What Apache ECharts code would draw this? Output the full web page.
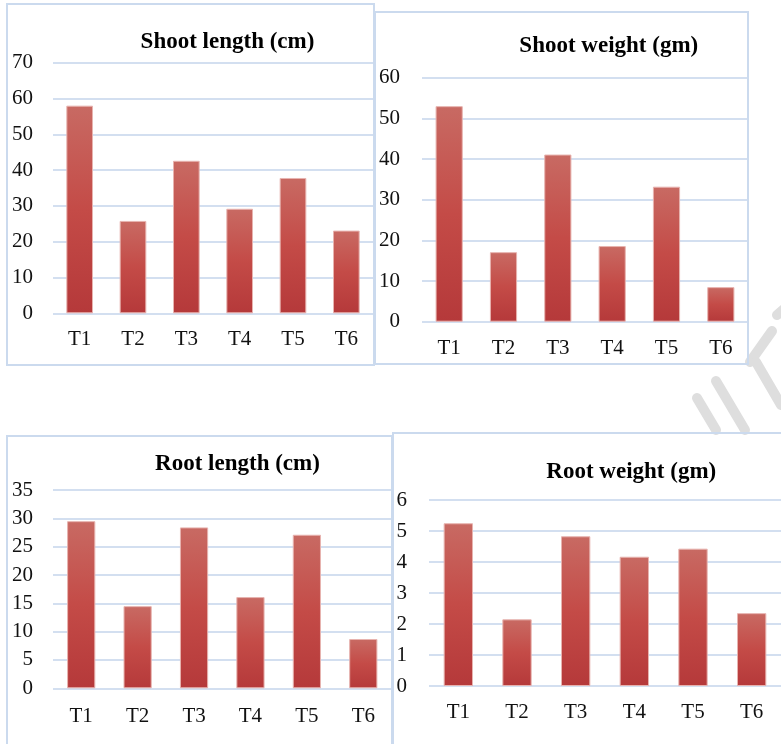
<!DOCTYPE html>
<html>
<head>
<meta charset="utf-8">
<script src="https://cdn.jsdelivr.net/npm/echarts@6/dist/echarts.min.js"></script>
<style>
html,body{margin:0;padding:0;background:#fff;}
#chart{width:781px;height:744px;}
</style>
</head>
<body>
<div id="chart"></div>
<script>
var categories = ['T1', 'T2', 'T3', 'T4', 'T5', 'T6'];
var shootLength = [58, 25.8, 42.6, 29.2, 37.8, 23.1];
var shootWeight = [53, 17.1, 41.1, 18.6, 33.2, 8.5];
var rootLength = [29.5, 14.5, 28.4, 16.1, 27.1, 8.7];
var rootWeight = [5.25, 2.15, 4.83, 4.17, 4.43, 2.35];
var titles = ['Shoot length (cm)', 'Shoot weight (gm)', 'Root length (cm)', 'Root weight (gm)'];
var yMax = [70, 60, 35, 6];
var yStep = [10, 10, 5, 1];

var seriesData = [shootLength, shootWeight, rootLength, rootWeight];
var FONT = '"Liberation Serif", "Times New Roman", serif';
var grids = [
  {left: 53, right: 408, top: 62.7, bottom: 430.7},
  {left: 422, right: 33, top: 77.7, bottom: 422.3},
  {left: 53, right: 389.5, top: 490, bottom: 55.7},
  {left: 429, right: -4, top: 500, bottom: 58}
];
var titlePos = [[227.5, 42.7], [608.8, 46.7], [237.5, 465], [631.3, 472.7]];
var xMargins = [16, 16, 18, 16];
var yMargins = [20, 22, 20, 22];

var barColor = {
  type: 'linear', x: 0, y: 0, x2: 0, y2: 1,
  colorStops: [
    {offset: 0, color: '#c86a63'},
    {offset: 0.5, color: '#c44b47'},
    {offset: 1, color: '#b5393a'}
  ]
};

var xAxes = [], yAxes = [], series = [], titleArr = [];
for (var i = 0; i < 4; i++) {
  xAxes.push({
    type: 'category', gridIndex: i, data: categories,
    axisLine: {show: false}, axisTick: {show: false},
    axisLabel: {color: '#111', fontFamily: FONT, fontSize: 21, margin: xMargins[i]}
  });
  yAxes.push({
    type: 'value', gridIndex: i, min: 0, max: yMax[i], interval: yStep[i],
    axisLine: {show: false}, axisTick: {show: false},
    axisLabel: {color: '#111', fontFamily: FONT, fontSize: 21, margin: yMargins[i]},
    splitLine: {lineStyle: {color: '#d3dff0', width: 2}}
  });
  series.push({
    type: 'bar', xAxisIndex: i, yAxisIndex: i, data: seriesData[i],
    barWidth: '50%',
    itemStyle: {color: barColor, borderColor: '#e7b3af', borderWidth: 1}
  });
  titleArr.push({
    text: titles[i], left: titlePos[i][0], top: titlePos[i][1] - 12.5, textAlign: 'center', padding: 0,
    textStyle: {fontFamily: FONT, fontWeight: 'bold', fontSize: 23, color: '#000'}
  });
}

function box(x, y, w, h) {
  return {type: 'rect', shape: {x: x, y: y, width: w, height: h}, z: 100,
    style: {fill: null, stroke: '#cbdaee', lineWidth: 2}};
}
function stripe(x1, y1, x2, y2) {
  return {type: 'line', shape: {x1: x1, y1: y1, x2: x2, y2: y2}, z: -1,
    style: {stroke: '#dedede', lineWidth: 10, lineCap: 'round'}};
}

var chart = echarts.init(document.getElementById('chart'));
chart.setOption({
  backgroundColor: '#fff',
  animation: false,
  title: titleArr,
  grid: grids,
  xAxis: xAxes,
  yAxis: yAxes,
  series: series,
  graphic: [
    stripe(697, 398, 716, 430),
    stripe(716, 381, 745, 430),
    stripe(750, 362, 772, 331),
    stripe(756, 362, 781, 405),
    stripe(777, 315, 784, 309),
    box(7, 4, 367, 361),
    box(375, 12, 373, 352),
    box(7, 436, 385, 320),
    box(393, 433, 400, 320)
  ]
});
</script>
</body>
</html>
